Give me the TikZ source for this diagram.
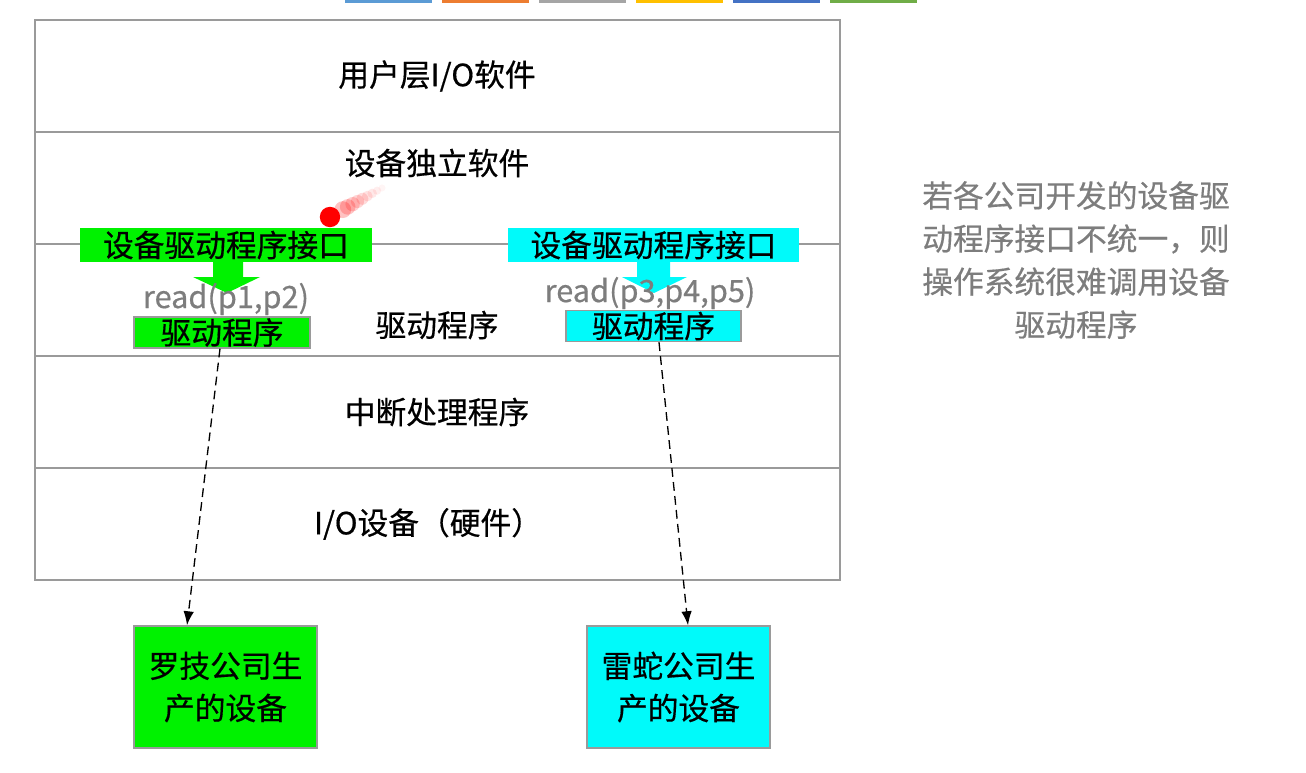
\documentclass[tikz,border=0pt]{standalone}
\usepackage{fontspec}
\setmainfont{Noto Sans CJK SC}[FakeBold=0.5]
\usetikzlibrary{calc,arrows.meta}
\definecolor{framegray}{HTML}{9A9A9A}
\definecolor{lgreen}{HTML}{00F200}
\definecolor{lcyan}{HTML}{00FAFA}
\definecolor{notegray}{HTML}{7D7D7D}
\tikzset{
  layer/.style={draw=framegray,line width=1.1pt},
  lbl/.style={font=\fontsize{17.5}{21}\selectfont,inner sep=0pt},
  iface/.style={lbl,minimum width=5.84cm,minimum height=0.68cm},
  drv/.style={lbl,draw=framegray,line width=0.8pt,minimum height=0.62cm},
  dev/.style={lbl,draw=framegray,line width=0.8pt,minimum width=3.66cm,minimum height=2.44cm,align=center,font=\fontsize{17.5}{24}\selectfont},
  call/.style={lbl,text=notegray},
  link/.style={dashed,dash pattern=on 5pt off 3pt,line width=0.75pt,-{Latex[length=8pt,width=6pt]}}
}
\begin{document}
\begin{tikzpicture}[x=0.02cm,y=-0.02cm]
\useasboundingbox (0,0) rectangle (1306,772);
% toolbar bits
\foreach \c [count=\i from 0] in {5B9BD5,ED7D31,A5A5A5,FFC000,4472C4,70AD47}{
  \definecolor{barcol}{HTML}{\c}
  \fill[barcol] (345+97*\i,0) rectangle (432+97*\i,3);
}
% layers
\foreach \y in {20,132,244,356,468} \draw[layer] (35,\y) rectangle (840,\y+112);
\node[lbl] (user) at (437,76) {用户层I/O软件};
\node[lbl] (indep) at (437,163) {设备独立软件};
\node[lbl] (drvlayer) at (437,325) {驱动程序};
\node[lbl] (irq) at (437,412) {中断处理程序};
\node[lbl] (hw) at (428,524) {I/O设备（硬件）};
% interfaces
\node[iface,fill=lgreen] (gif) at (226,245) {设备驱动程序接口};
\node[iface,fill=lcyan] (cif) at (653.5,245) {设备驱动程序接口};
\fill[lgreen] (213,262) -- (243,262) -- (243,277) -- (260,277) -- (227,293) -- (193,277) -- (213,277) -- cycle;
\fill[lcyan] (637,262) -- (670,262) -- (670,277) -- (687,277) -- (654,293) -- (622,277) -- (637,277) -- cycle;
\node[call] (gread) at (226,299) {read(p1,p2)};
\node[call] (cread) at (650,293) {read(p3,p4,p5)};
\node[drv,fill=lgreen,minimum width=3.52cm] (gdrv) at (222,332.5) {驱动程序};
\node[drv,fill=lcyan,minimum width=3.5cm] (cdrv) at (653.5,326) {驱动程序};
% devices
\node[dev,fill=lgreen] (gdev) at (225.5,687) {罗技公司生\\产的设备};
\node[dev,fill=lcyan] (cdev) at (678.5,687) {雷蛇公司生\\产的设备};
\draw[link] ($(gdrv.south)+(-2,0)$) -- ($(gdev.north)+(-38.5,0)$);
\draw[link] ($(cdrv.south)+(5.5,0)$) -- ($(cdev.north)+(9.5,0)$);
% pointer
\foreach \t in {0,0.1,...,0.9}
  \fill[red,opacity=0.04+0.25*\t] ($(382,188)!\t!(333,215)$) circle ({2pt+3.5pt*\t});
\fill[red] (330,217) circle (5.8pt);
% note
\node[lbl,text=notegray,align=center,font=\fontsize{17.5}{24.5}\selectfont] (note) at (1076,260)
  {若各公司开发的设备驱\\动程序接口不统一，则\\操作系统很难调用设备\\驱动程序};
\end{tikzpicture}
\end{document}
